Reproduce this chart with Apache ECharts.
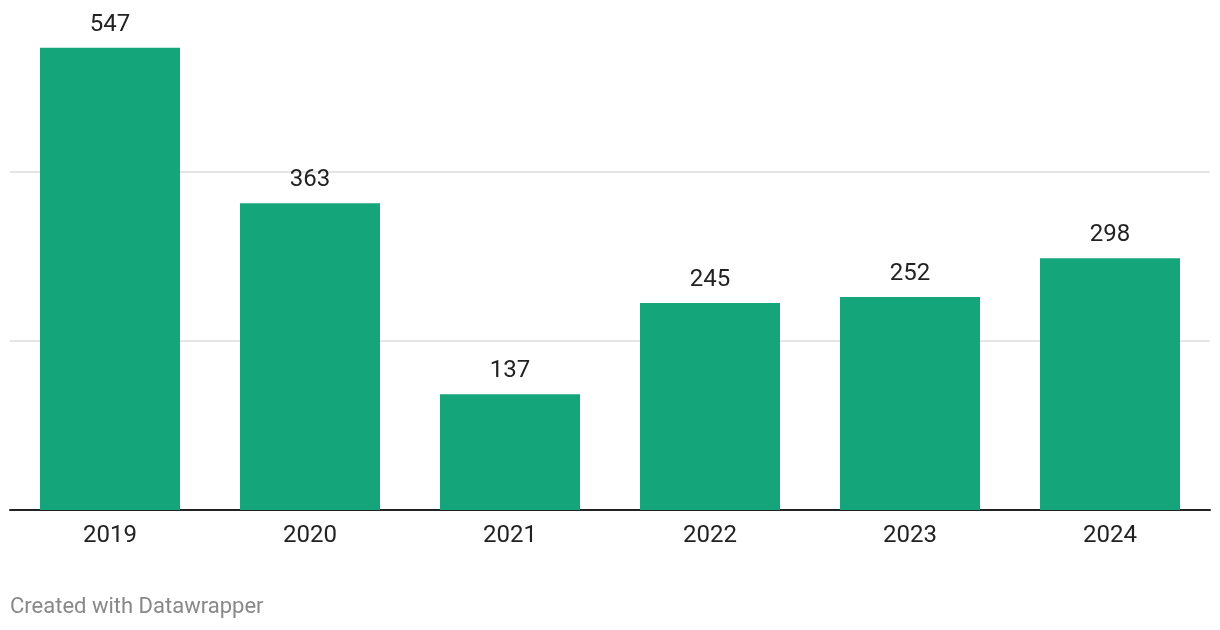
<!DOCTYPE html>
<html>
<head>
    <meta charset="utf-8" />
    <title>Bars 2019-2024</title>
    <script src="https://cdn.jsdelivr.net/npm/echarts@6/dist/echarts.min.js"></script>
    <style>
        body { margin: 0; background: #fff; }
        #main { width: 1220px; height: 630px; }
    </style>
</head>
<body>
<div id="main"></div>
<script type="text/javascript">
    var years = ['2019', '2020', '2021', '2022', '2023', '2024'];
    var values = [547, 363, 137, 245, 252, 298];

    var myChart = echarts.init(document.getElementById('main'));
    var option = {
        animation: false,
        textStyle: { fontFamily: 'Roboto' },
        graphic: [{
            type: 'text',
            left: 10,
            top: 596,
            style: { text: 'Created with Datawrapper', fill: '#888', font: '22px Roboto' }
        }],
        grid: { left: 10, right: 10, top: 3, bottom: 120 },
        xAxis: {
            type: 'category',
            data: years,
            axisLine: { lineStyle: { color: '#222', width: 2 } },
            axisTick: { show: false },
            axisLabel: { color: '#222', fontSize: 24, margin: 14 }
        },
        yAxis: {
            type: 'value',
            min: 0,
            max: 600,
            interval: 200,
            axisLabel: { show: false },
            axisLine: { show: false },
            axisTick: { show: false },
            splitLine: {
                showMinLine: false,
                showMaxLine: false,
                lineStyle: { color: '#e5e5e5', width: 2 }
            }
        },
        series: [{
            type: 'bar',
            data: values,
            barWidth: 140,
            itemStyle: { color: '#14a57a' },
            label: {
                show: true,
                position: 'top',
                distance: 11,
                color: '#222',
                fontSize: 24
            }
        }]
    };
    myChart.setOption(option);
</script>
</body>
</html>
